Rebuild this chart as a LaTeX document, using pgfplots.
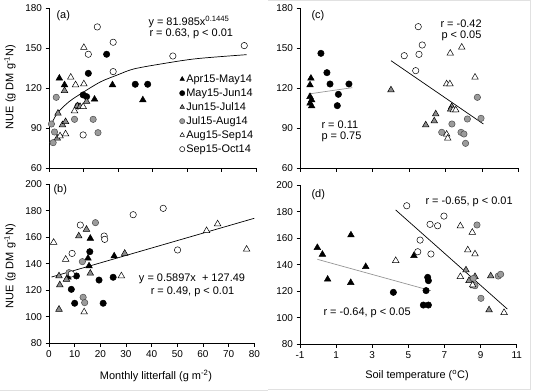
\documentclass[border=0pt]{standalone}
\usepackage{fontspec}
\setmainfont{Liberation Sans}
\usepackage{pgfplots}
\pgfplotsset{compat=1.18}
\definecolor{gtri}{RGB}{140,140,140}
\definecolor{gcir}{RGB}{155,155,155}
\definecolor{gline}{RGB}{150,150,150}
\definecolor{frame}{RGB}{225,225,225}
\tikzset{
 apr/.style={only marks, black, mark=triangle*, mark size=3.8bp, mark options={fill=black, draw=black, line width=0.5bp}},
 may/.style={only marks, black, mark=*, mark size=3.2bp, mark options={fill=black, draw=black, line width=0.5bp}},
 jun/.style={only marks, black, mark=triangle*, mark size=3.8bp, mark options={fill=gtri, draw=black, line width=0.5bp}},
 jul/.style={only marks, black, mark=*, mark size=3.2bp, mark options={fill=gcir, draw=black!70, line width=0.5bp}},
 aug/.style={only marks, black, mark=triangle*, mark size=3.8bp, mark options={fill=white, draw=black, line width=0.5bp}},
 sep/.style={only marks, black, mark=*, mark size=3.2bp, mark options={fill=white, draw=black, line width=0.5bp}},
}
\pgfplotsset{
 panel/.style={scale only axis, anchor=south west,
  axis x line*=bottom, axis y line*=left,
  axis line style={-, line width=0.6bp},
  tick style={line width=0.6bp, black},
  major tick length=3.5bp, tick align=outside,
  /pgf/number format/assume math mode=true,
  ticklabel style={font=\fontsize{10}{12}\selectfont},
  clip=false},
}
\newcommand{\fs}{\fontsize{11}{13}\selectfont}
\begin{document}
\begin{tikzpicture}[x=1bp,y=1bp]
\useasboundingbox (0,0) rectangle (533,391);
\draw[frame, line width=0.8bp] (0,0.6) -- (268,0.6);
\draw[frame, line width=0.8bp] (268,2) -- (530.7,2) -- (530.7,390.5) -- (268,390.5);
% (a)
\begin{axis}[panel, at={(49bp,223bp)}, width=207bp, height=160bp,
 xmin=0, xmax=60, ymin=60, ymax=180, xtick={0,10,...,60}, xticklabels={},
 ytick={60,90,...,180},
 legend image code/.code={\draw[#1,mark size=2.6bp] plot coordinates {(0bp,0bp)};},
 legend style={draw=none, fill=none, at={(0.630,0.594)}, anchor=north west, inner sep=0pt,
   font=\fs, row sep=2bp, nodes={inner ysep=0bp, inner xsep=1.5bp, text height=9bp, text depth=3bp}},
 legend cell align=left]
\addplot[apr] coordinates {(3.0,127.3) (4.5,122.3) (13.2,111.5) (18.4,122.3) (27.2,111)};
\addlegendentry{Apr15-May14}
\addplot[may] coordinates {(8.4,106.5) (9.9,114.8) (10.9,113.5) (11.4,131) (16.7,145.3) (25.0,122.8) (28.6,122.8)};
\addlegendentry{May15-Jun14}
\addplot[jun] coordinates {(2.6,101) (4.5,118) (3.9,92.3) (4.8,94.7) (2.4,82.3) (8.2,106.5) (9.0,106) (10.9,109.8)};
\addlegendentry{Jun15-Jul14}
\addplot[jul] coordinates {(2.1,113) (0.7,93) (1.6,87) (1.2,79) (7.4,96.5) (12.8,96.5) (14.2,86.5)};
\addlegendentry{Jul15-Aug14}
\addplot[aug] coordinates {(10.1,150.3) (6.3,128) (7.7,122.3) (10.1,123) (7.4,102.8) (9.9,106) (4.8,85.5) (3.2,84)};
\addlegendentry{Aug15-Sep14}
\addplot[sep] coordinates {(14.0,165.8) (18.6,154.3) (11.4,145.3) (18.6,132.3) (9.9,84.8) (35.9,144) (56.6,151.8)};
\addlegendentry{Sep15-Oct14}
\addplot[black, line width=0.7bp, smooth, forget plot] coordinates {(0.3,91) (2.4,101) (5.8,109.7) (10.15,117.2) (15.0,124.7) (19.8,129.75) (24.6,134.3) (33.1,138.3) (42.8,142) (57.3,145)};
\end{axis}
% (b)
\begin{axis}[panel, at={(49bp,47.7bp)}, width=205.3bp, height=159.1bp,
 xmin=0, xmax=80, ymin=80, ymax=200, xtick={0,10,...,80}, ytick={80,100,...,200}]
\addplot[apr] coordinates {(16.1,159.1) (15.2,144.1) (15.6,138.3) (25.4,145.8) (7.4,129.8)};
\addplot[may] coordinates {(15.9,149.1) (10.7,130.8) (19.5,127.7) (25.0,129.8) (8.7,120.7) (10.0,110.2) (21.1,110.2)};
\addplot[jun] coordinates {(11.6,160.9) (14.6,165.9) (29.5,147.8) (16.1,132.8) (3.9,130.8) (6.8,128.2) (4.2,124) (3.9,105.6)};
\addplot[jul] coordinates {(18.1,171) (13.0,141.6) (7.8,133.3) (13.3,114.7) (13.9,110.7)};
\addplot[aug] coordinates {(1.8,156.1) (61.4,164.9) (65.7,170) (77.0,150.9) (6.5,143.3) (28.2,130.8) (13.7,103.6)};
\addplot[sep] coordinates {(12.2,169.2) (21.5,160.9) (21.7,158.4) (32.8,177) (44.5,181.8) (50.1,150.4) (9.0,147.8) (8.7,132.3)};
\addplot[black, line width=0.7bp] coordinates {(1.0,130.0) (80,174.3)};
\end{axis}
% (c)
\begin{axis}[panel, at={(300bp,223bp)}, width=218.3bp, height=160bp,
 xmin=-1, xmax=11, ymin=60, ymax=180, xtick={-1,1,...,11}, xticklabels={}, ytick={60,90,...,180}]
\addplot[apr] coordinates {(-0.40,127.25) (-0.45,122.25) (-0.45,113.5) (-0.36,111) (-0.45,108.5) (-0.36,106.5)};
\addplot[may] coordinates {(0.15,146) (0.48,131.5) (0.65,123) (1.11,115.25) (1.05,106.75) (1.69,123)};
\addplot[jun] coordinates {(4.0,118.5) (5.91,92.25) (6.38,95.25) (6.46,100.5) (7.34,106) (7.28,104)};
\addplot[jul] coordinates {(6.79,86.75) (7.35,93) (7.85,86.75) (8.01,85.5) (8.10,78.5) (8.20,96.75) (8.75,113) (8.95,97.25)};
\addplot[aug] coordinates {(7.06,123) (7.24,123) (7.26,146) (7.89,150.5) (8.62,128) (7.06,85.25) (7.12,82.25) (7.43,103.5) (7.56,103.5)};
\addplot[sep] coordinates {(5.50,166) (5.72,152.25) (5.54,145.25) (4.73,144.25) (5.36,133)};
\addplot[gline, line width=0.7bp] coordinates {(-0.54,115.5) (1.88,120.25)};
\addplot[black, line width=0.7bp] coordinates {(4.0,140.5) (9.08,93)};
\end{axis}
% (d)
\begin{axis}[panel, at={(300bp,46.7bp)}, width=216.7bp, height=159.1bp,
 xmin=-1, xmax=11, ymin=80, ymax=200, xtick={-1,1,...,11}, ytick={80,100,...,200}]
\addplot[apr] coordinates {(-0.04,152.9) (0.24,147.8) (0.53,129) (1.82,162.4) (1.81,126.5) (2.64,138.5) (5.31,146.8)};
\addplot[may] coordinates {(4.17,119.2) (5.98,120.5) (6.07,130.5) (6.11,128) (5.83,109.6) (6.11,109.6)};
\addplot[jun] coordinates {(8.19,136) (8.36,128) (8.62,124) (9.56,131.5) (9.47,105.9) (8.69,131)};
\addplot[jul] coordinates {(8.80,170) (9.02,114.7) (9.98,131.5) (10.11,132.8) (8.60,129.7) (8.69,124.2)};
\addplot[aug] coordinates {(4.30,143.1) (7.88,169.2) (8.54,164.4) (8.29,151.1) (8.69,148.1) (7.88,131) (8.56,124.7) (10.30,103.9)};
\addplot[sep] coordinates {(4.91,184.5) (6.97,176.7) (6.20,170.5) (6.62,169.4) (5.65,158.6) (5.52,149.8) (6.25,148.1)};
\addplot[gline, line width=0.7bp] coordinates {(-0.04,144.1) (6.24,120.5)};
\addplot[black, line width=0.7bp] coordinates {(4.30,181.3) (10.48,106.6)};
\end{axis}
% texts
\node[anchor=west, font=\fs] at (53,375) {(a)};
\node[anchor=west, font=\fs] at (50,201) {(b)};
\node[anchor=west, font=\fs] at (308,375) {(c)};
\node[anchor=west, font=\fs] at (308,196) {(d)};
\node[rotate=90, font=\fs] at (10,304) {NUE (g DM g\textsuperscript{-1}N)};
\node[rotate=90, font=\fs] at (10,125) {NUE (g DM g\textsuperscript{-1}N)};
\node[font=\fs] at (156,15) {Monthly litterfall (g m\textsuperscript{-2})};
\node[font=\fs] at (417,15) {Soil temperature (\textsuperscript{o}C)};
\node[anchor=west, font=\fs] at (145,369) {y = 81.985x\textsuperscript{0.1445}};
\node[anchor=west, font=\fs] at (146,357) {r = 0.63, p < 0.01};
\node[font=\fs] at (192,112) {y = 0.5897x \ + 127.49};
\node[font=\fs] at (192.5,99) {r = 0.49, p < 0.01};
\node[anchor=west, font=\fs] at (437,367) {r = -0.42};
\node[anchor=west, font=\fs] at (438,355) {p < 0.05};
\node[anchor=west, font=\fs] at (318,266) {r = 0.11};
\node[anchor=west, font=\fs] at (318,254) {p = 0.75};
\node[anchor=west, font=\fs] at (422,189) {r = -0.65, p < 0.01};
\node[anchor=west, font=\fs] at (320,78) {r = -0.64, p < 0.05};
\end{tikzpicture}
\end{document}
